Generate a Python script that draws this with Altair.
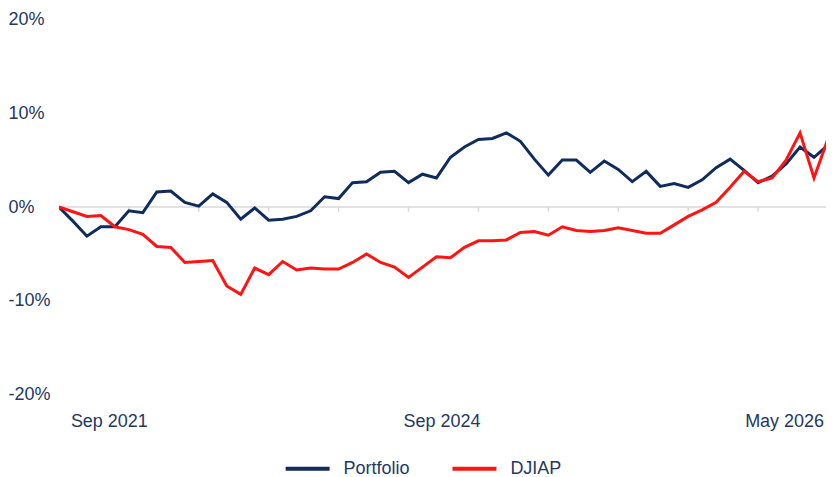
import altair as alt
import pandas as pd

# Monthly observations, Sep 2021 .. May 2026 (57 months)
months = pd.date_range("2021-09-01", "2026-05-01", freq="MS").strftime("%b %Y").tolist()

portfolio = [0.0, -1.5, -3.1, -2.1, -2.1, -0.4, -0.6, 1.6, 1.7, 0.5,
             0.1, 1.4, 0.5, -1.3, -0.1, -1.4, -1.3, -1.0, -0.4, 1.1,
             0.9, 2.6, 2.7, 3.7, 3.8, 2.6, 3.5, 3.1, 5.3, 6.4,
             7.2, 7.3, 7.9, 7.0, 5.1, 3.4, 5.0, 5.0, 3.7, 4.9,
             4.0, 2.7, 3.8, 2.2, 2.5, 2.1, 2.9, 4.2, 5.1, 3.9,
             2.6, 3.3, 4.6, 6.4, 5.3, 6.6, 7.9]

djiap = [0.0, -0.5, -1.0, -0.9, -2.1, -2.4, -2.9, -4.2, -4.3, -5.9,
         -5.8, -5.7, -8.4, -9.3, -6.5, -7.2, -5.8, -6.7, -6.5, -6.6,
         -6.6, -5.9, -5.0, -5.9, -6.4, -7.5, -6.4, -5.3, -5.4, -4.3,
         -3.6, -3.6, -3.5, -2.7, -2.6, -3.0, -2.1, -2.5, -2.6, -2.5,
         -2.2, -2.5, -2.8, -2.8, -1.9, -1.0, -0.3, 0.5, 2.1, 3.8,
         2.7, 3.1, 5.0, 7.9, 3.1, 7.3, 11.8]

series_names = ["Portfolio", "DJIAP"]
series_colors = ["#102C5E", "#FF1414"]

x_label_pos = [3.57, 27.36, 51.86]
x_label_text = ["Sep 2021", "Sep 2024", "May 2026"]
x_tick_pos = [0, 5, 10, 15, 20, 25, 30, 35, 40, 45, 50, 55]
y_tick_values = [-20, -10, 0, 10, 20]

TEXT = "#1F3864"
FONT = "Liberation Sans"

rows = []
for i, m in enumerate(months):
    rows.append({"idx": i, "month": m, "series": "Portfolio", "value": portfolio[i]})
for i, m in enumerate(months):
    rows.append({"idx": i, "month": m, "series": "DJIAP", "value": djiap[i]})
df = pd.DataFrame(rows)

label_expr = "".join(
    f"abs(datum.value - {p}) < 0.01 ? '{t}' : " for p, t in zip(x_label_pos, x_label_text)
) + "''"

# 14 px per month; the visible window ends a little before May 2026
x_scale = alt.Scale(domain=[0, 54.857], nice=False, zero=False)
y_scale = alt.Scale(domain=[-20, 20], nice=False)

x_axis = alt.Axis(values=x_label_pos, labelExpr=label_expr, ticks=False, tickSize=0,
                  domain=False, grid=False, labelPadding=18, title=None,
                  labelFontSize=18, labelColor=TEXT, labelFont=FONT, labelFlush=False)
y_axis = alt.Axis(values=y_tick_values, labelExpr="datum.value + '%'", ticks=False, tickSize=0,
                  domain=False, grid=False, labelPadding=51, labelAlign="left", title=None,
                  labelFontSize=18, labelColor=TEXT, labelFont=FONT)

zero_df = pd.DataFrame({"y": [0]})
zero_line = alt.Chart(zero_df).mark_rule(color="#D9D9D9", strokeWidth=1.5).encode(
    y=alt.Y("y:Q", scale=y_scale, axis=y_axis)
)

ticks_df = pd.DataFrame({"x": x_tick_pos, "y": [0] * len(x_tick_pos), "y2": [-0.5] * len(x_tick_pos)})
tick_marks = alt.Chart(ticks_df).mark_rule(color="#D9D9D9", strokeWidth=1.5, clip=True).encode(
    x=alt.X("x:Q", scale=x_scale, axis=x_axis),
    y=alt.Y("y:Q", scale=y_scale, axis=y_axis),
    y2="y2:Q",
)

lines = alt.Chart(df).mark_line(strokeWidth=3, clip=True).encode(
    x=alt.X("idx:Q", scale=x_scale, axis=x_axis),
    y=alt.Y("value:Q", scale=y_scale, axis=y_axis),
    color=alt.Color(
        "series:N",
        scale=alt.Scale(domain=series_names, range=series_colors),
        sort=series_names,
        legend=alt.Legend(
            title=None, orient="none", direction="horizontal",
            legendX=225, legendY=426,
            symbolType="stroke", symbolSize=1936, symbolStrokeWidth=4,
            labelFontSize=18, labelColor=TEXT, labelFont=FONT,
            labelOffset=12, columnPadding=34,
        ),
    ),
    detail="series:N",
)

chart = alt.layer(zero_line, tick_marks, lines).properties(
    width=768, height=376, background="white",
    padding={"left": 0, "top": 2, "right": 0, "bottom": 0},
).configure_view(stroke=None)

chart.save("out.html", embed_options={"renderer": "svg", "actions": False})
